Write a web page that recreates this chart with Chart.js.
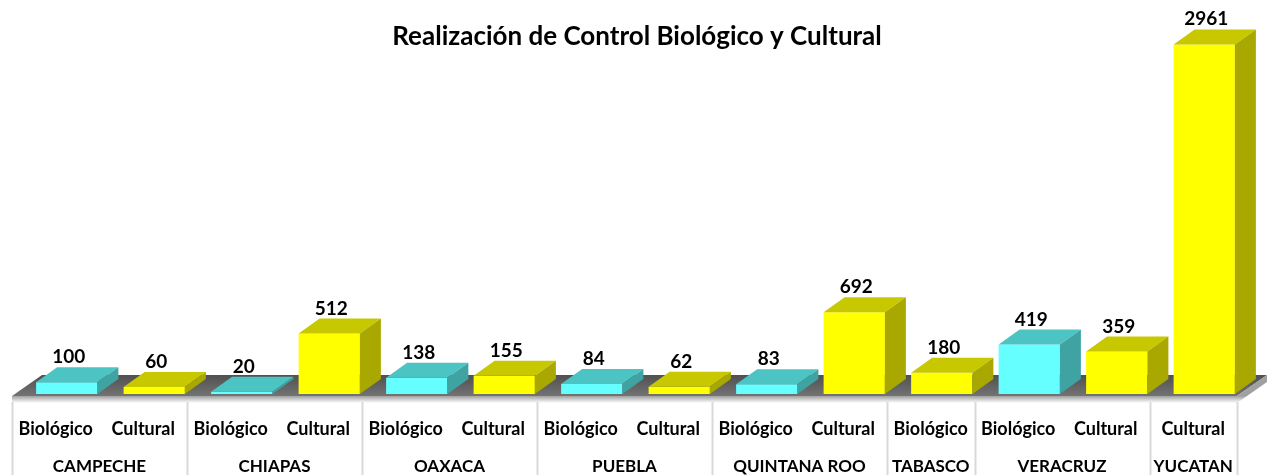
<!DOCTYPE html>
<html lang="es">
<head>
<meta charset="UTF-8">
<title>Realización de Control Biológico y Cultural</title>
<script src="https://cdn.jsdelivr.net/npm/chart.js"></script>
<style>
    * { margin: 0; padding: 0; box-sizing: border-box; }
    body { background: #ffffff; width: 1270px; height: 475px; overflow: hidden; }
    #chart { display: block; }
</style>
</head>
<body>
<canvas id="chart" width="1270" height="475"></canvas>
<script>
// one entry per bar, left to right
const barLabels = ['Biológico', 'Cultural', 'Biológico', 'Cultural', 'Biológico', 'Cultural',
    'Biológico', 'Cultural', 'Biológico', 'Cultural', 'Biológico', 'Biológico', 'Cultural', 'Cultural'];
const barStates = ['CAMPECHE', 'CAMPECHE', 'CHIAPAS', 'CHIAPAS', 'OAXACA', 'OAXACA',
    'PUEBLA', 'PUEBLA', 'QUINTANA ROO', 'QUINTANA ROO', 'TABASCO', 'VERACRUZ', 'VERACRUZ', 'YUCATAN'];
const biologico = [100, null, 20, null, 138, null, 84, null, 83, null, null, 419, null, null];
const cultural = [null, 60, null, 512, null, 155, null, 62, null, 692, 180, null, 359, 2961];

const TITLE = 'Realización de Control Biológico y Cultural';

// 3d look
const DEPTH_X = 21, DEPTH_Y = 15;
const SHIFT = 11;   // labels/floor sit a bit left of the bar fronts
const faces = {
    bio: { front: '#66ffff', top: '#4dc4c4', side: '#3fa3a3' },
    cul: { front: '#ffff00', top: '#c8c800', side: '#a8a800' }
};

function fitText(ctx, text, x, y, maxW) {
    const w = ctx.measureText(text).width;
    if (w <= maxW) { ctx.fillText(text, x, y); return; }
    ctx.save();
    ctx.translate(x, y);
    ctx.scale(maxW / w, 1);
    ctx.fillText(text, 0, 0);
    ctx.restore();
}

const bars3d = {
    id: 'bars3d',
    beforeDatasetsDraw(chart) {
        const ctx = chart.ctx;
        const area = chart.chartArea;
        const left = area.left - SHIFT, right = area.right - SHIFT;
        const front = area.bottom + 2, back = front - 21, dx = 30;
        ctx.save();
        // floor
        const g = ctx.createLinearGradient(0, back, 0, front);
        g.addColorStop(0, '#505050');
        g.addColorStop(1, '#737373');
        ctx.fillStyle = g;
        ctx.beginPath();
        ctx.moveTo(left, front);
        ctx.lineTo(left + dx, back);
        ctx.lineTo(right + dx, back);
        ctx.lineTo(right, front);
        ctx.closePath();
        ctx.fill();
        // soft edge under the floor
        const g2 = ctx.createLinearGradient(0, front, 0, front + 7);
        g2.addColorStop(0, '#a0a0a0');
        g2.addColorStop(1, '#ffffff');
        ctx.fillStyle = g2;
        ctx.beginPath();
        ctx.moveTo(left, front);
        ctx.lineTo(right, front);
        ctx.lineTo(right + dx, back);
        ctx.lineTo(right + dx, back + 7);
        ctx.lineTo(right, front + 7);
        ctx.lineTo(left, front + 7);
        ctx.closePath();
        ctx.fill();
        ctx.restore();
    },
    afterDatasetsDraw(chart) {
        const ctx = chart.ctx;
        ctx.save();
        chart.data.datasets.forEach((ds, di) => {
            const pal = di === 0 ? faces.bio : faces.cul;
            chart.getDatasetMeta(di).data.forEach((bar, i) => {
                if (ds.data[i] === null) return;
                const x0 = bar.x - bar.width / 2, x1 = bar.x + bar.width / 2;
                const top = bar.y, base = bar.base;
                // top face
                ctx.fillStyle = pal.top;
                ctx.beginPath();
                ctx.moveTo(x0, top);
                ctx.lineTo(x0 + DEPTH_X, top - DEPTH_Y);
                ctx.lineTo(x1 + DEPTH_X, top - DEPTH_Y);
                ctx.lineTo(x1, top);
                ctx.closePath();
                ctx.fill();
                // side face
                ctx.fillStyle = pal.side;
                ctx.beginPath();
                ctx.moveTo(x1, top);
                ctx.lineTo(x1 + DEPTH_X, top - DEPTH_Y);
                ctx.lineTo(x1 + DEPTH_X, base - DEPTH_Y);
                ctx.lineTo(x1, base);
                ctx.closePath();
                ctx.fill();
                // value label
                ctx.fillStyle = '#000000';
                ctx.font = 'bold 19px Lato';
                ctx.textAlign = 'center';
                ctx.textBaseline = 'alphabetic';
                ctx.fillText(String(ds.data[i]), bar.x + 2, top - DEPTH_Y - 4);
            });
        });
        ctx.restore();
    },
    afterDraw(chart) {
        const ctx = chart.ctx;
        const xs = chart.scales.x;
        const step = xs.getPixelForValue(1) - xs.getPixelForValue(0);
        ctx.save();
        // title
        ctx.fillStyle = '#000000';
        ctx.font = 'bold 26px Lato';
        ctx.textAlign = 'center';
        ctx.textBaseline = 'middle';
        fitText(ctx, TITLE, 637, 37, 492);

        // axis labels, two levels
        const yTop = chart.chartArea.bottom + 8;
        ctx.strokeStyle = '#d9d9d9';
        ctx.lineWidth = 2;
        ctx.font = 'bold 18px Lato';
        barLabels.forEach((lab, i) => {
            const cx = xs.getPixelForValue(i) - SHIFT;
            fitText(ctx, lab, cx, 429, step - 6);
        });
        let start = 0;
        for (let i = 1; i <= barStates.length; i++) {
            if (i < barStates.length && barStates[i] === barStates[start]) continue;
            const l = xs.getPixelForValue(start) - step / 2 - SHIFT;
            const r = xs.getPixelForValue(i - 1) + step / 2 - SHIFT;
            ctx.font = 'bold 17px Lato';
            fitText(ctx, barStates[start], (l + r) / 2, 467, r - l - 4);
            start = i;
        }
        // separators
        const edges = [0];
        for (let i = 1; i < barStates.length; i++) if (barStates[i] !== barStates[i - 1]) edges.push(i);
        edges.push(barStates.length);
        edges.forEach(e => {
            const x = Math.round(xs.getPixelForValue(0) - step / 2 - SHIFT + e * step) + 0.5;
            ctx.beginPath();
            ctx.moveTo(x, yTop);
            ctx.lineTo(x, 475);
            ctx.stroke();
        });
        ctx.restore();
    }
};

new Chart(document.getElementById('chart').getContext('2d'), {
    type: 'bar',
    data: {
        labels: barLabels,
        datasets: [
            { label: 'Biológico', data: biologico, backgroundColor: faces.bio.front, borderWidth: 0 },
            { label: 'Cultural', data: cultural, backgroundColor: faces.cul.front, borderWidth: 0 }
        ]
    },
    options: {
        responsive: false,
        animation: false,
        devicePixelRatio: 1,
        layout: { padding: { left: 23, right: 22, top: 28, bottom: 81 } },
        datasets: { bar: { barPercentage: 0.7, categoryPercentage: 1, skipNull: true } },
        scales: {
            x: { display: false, stacked: true },
            y: { display: false, stacked: true, min: 0, max: 3100 }
        },
        plugins: {
            legend: { display: false },
            title: { display: false },
            tooltip: { enabled: false }
        }
    },
    plugins: [bars3d]
});
</script>
</body>
</html>
